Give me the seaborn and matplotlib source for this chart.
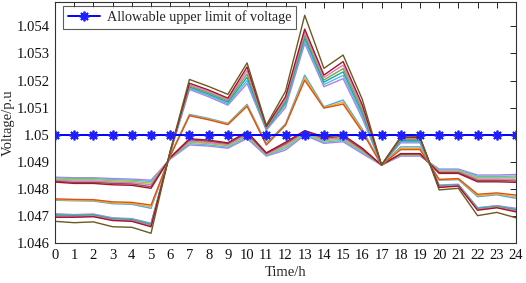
import matplotlib
matplotlib.use("Agg")
import matplotlib.pyplot as plt
import seaborn as sns
import pandas as pd

hours = list(range(25))

# Group A (highest at night, lowest during the day)
A1 = [1.04843, 1.04841, 1.04841, 1.04838, 1.04836, 1.04832, 1.04910, 1.04962, 1.04958, 1.04950, 1.04986, 1.04921, 1.04943, 1.04998, 1.04968, 1.04974, 1.04930, 1.04888, 1.04921, 1.04921, 1.04873, 1.04873, 1.04851, 1.04851, 1.04853]
A2 = [1.04840, 1.04838, 1.04838, 1.04834, 1.04832, 1.04827, 1.04912, 1.04967, 1.04962, 1.04954, 1.04991, 1.04923, 1.04950, 1.05002, 1.04972, 1.04979, 1.04934, 1.04888, 1.04923, 1.04923, 1.04870, 1.04870, 1.04846, 1.04846, 1.04847]
A3 = [1.04836, 1.04834, 1.04834, 1.04830, 1.04828, 1.04821, 1.04913, 1.04972, 1.04967, 1.04959, 1.04996, 1.04926, 1.04956, 1.05006, 1.04977, 1.04984, 1.04938, 1.04888, 1.04925, 1.04925, 1.04866, 1.04866, 1.04841, 1.04841, 1.04841]
A4 = [1.04832, 1.04829, 1.04829, 1.04825, 1.04823, 1.04815, 1.04914, 1.04976, 1.04971, 1.04963, 1.05001, 1.04928, 1.04962, 1.05009, 1.04982, 1.04989, 1.04942, 1.04888, 1.04927, 1.04927, 1.04863, 1.04863, 1.04836, 1.04836, 1.04835]
A5 = [1.04828, 1.04824, 1.04824, 1.04820, 1.04818, 1.04808, 1.04915, 1.04981, 1.04976, 1.04967, 1.05006, 1.04931, 1.04967, 1.05012, 1.04987, 1.04994, 1.04946, 1.04888, 1.04929, 1.04929, 1.04860, 1.04860, 1.04831, 1.04831, 1.04829]
A6 = [1.04825, 1.04820, 1.04820, 1.04815, 1.04813, 1.04802, 1.04916, 1.04985, 1.04980, 1.04970, 1.05011, 1.04933, 1.04972, 1.05015, 1.04992, 1.04999, 1.04950, 1.04888, 1.04930, 1.04930, 1.04857, 1.04857, 1.04826, 1.04826, 1.04824]

# Group B (middle)
B1 = [1.04758, 1.04756, 1.04755, 1.04745, 1.04743, 1.04728, 1.04925, 1.05075, 1.05060, 1.05042, 1.05112, 1.04968, 1.05040, 1.05220, 1.05103, 1.05128, 1.05020, 1.04888, 1.04955, 1.04955, 1.04832, 1.04834, 1.04771, 1.04778, 1.04765]
B2 = [1.04760, 1.04758, 1.04757, 1.04748, 1.04746, 1.04734, 1.04923, 1.05072, 1.05057, 1.05040, 1.05108, 1.04965, 1.05037, 1.05210, 1.05100, 1.05120, 1.05015, 1.04888, 1.04950, 1.04950, 1.04833, 1.04836, 1.04775, 1.04781, 1.04771]
B3 = [1.04763, 1.04761, 1.04760, 1.04752, 1.04750, 1.04740, 1.04921, 1.05070, 1.05055, 1.05037, 1.05105, 1.04962, 1.05035, 1.05201, 1.05098, 1.05113, 1.05010, 1.04888, 1.04945, 1.04945, 1.04835, 1.04838, 1.04780, 1.04785, 1.04777]

# Group C (lowest at night, highest during the day)
C2 = [1.04695, 1.04695, 1.04697, 1.04683, 1.04680, 1.04660, 1.04938, 1.05190, 1.05165, 1.05135, 1.05250, 1.05030, 1.05140, 1.05390, 1.05220, 1.05270, 1.05110, 1.04888, 1.04990, 1.04990, 1.04805, 1.04810, 1.04721, 1.04730, 1.04715]
C3 = [1.04698, 1.04697, 1.04699, 1.04685, 1.04682, 1.04663, 1.04937, 1.05184, 1.05160, 1.05130, 1.05237, 1.05027, 1.05132, 1.05379, 1.05211, 1.05257, 1.05100, 1.04888, 1.04986, 1.04986, 1.04807, 1.04812, 1.04723, 1.04732, 1.04718]
C4 = [1.04700, 1.04699, 1.04701, 1.04687, 1.04684, 1.04666, 1.04936, 1.05180, 1.05155, 1.05125, 1.05224, 1.05024, 1.05125, 1.05368, 1.05202, 1.05244, 1.05090, 1.04888, 1.04982, 1.04982, 1.04809, 1.04813, 1.04725, 1.04734, 1.04720]
C5 = [1.04703, 1.04701, 1.04703, 1.04689, 1.04686, 1.04668, 1.04935, 1.05176, 1.05150, 1.05120, 1.05212, 1.05022, 1.05118, 1.05358, 1.05194, 1.05232, 1.05080, 1.04888, 1.04978, 1.04978, 1.04810, 1.04814, 1.04727, 1.04735, 1.04722]
C6 = [1.04705, 1.04703, 1.04705, 1.04691, 1.04688, 1.04670, 1.04934, 1.05171, 1.05145, 1.05114, 1.05200, 1.05019, 1.05110, 1.05347, 1.05185, 1.05219, 1.05070, 1.04888, 1.04974, 1.04974, 1.04812, 1.04815, 1.04729, 1.04737, 1.04724]
C7 = [1.04708, 1.04705, 1.04707, 1.04693, 1.04690, 1.04673, 1.04933, 1.05167, 1.05140, 1.05109, 1.05189, 1.05017, 1.05100, 1.05337, 1.05177, 1.05207, 1.05060, 1.04888, 1.04970, 1.04970, 1.04814, 1.04817, 1.04730, 1.04738, 1.04728]
C1 = [1.04680, 1.04675, 1.04678, 1.04660, 1.04658, 1.04636, 1.04940, 1.05204, 1.05178, 1.05149, 1.05265, 1.05035, 1.05160, 1.05441, 1.05245, 1.05294, 1.05130, 1.04888, 1.04992, 1.04992, 1.04796, 1.04802, 1.04701, 1.04713, 1.04693]

series = {
    "A1": A1, "A2": A2, "A3": A3, "A4": A4, "A5": A5, "A6": A6,
    "B1": B1, "B2": B2, "B3": B3,
    "C7": C7, "C6": C6, "C5": C5, "C4": C4, "C3": C3, "C2": C2, "C1": C1,
}
colors = {
    "A1": "#B57EDC", "A2": "#4DBEEE", "A3": "#9ACD32", "A4": "#E377C2", "A5": "#8C564B", "A6": "#A2142F",
    "B1": "#4DA6E8", "B2": "#EDB120", "B3": "#D95319",
    "C7": "#B57EDC", "C6": "#4DBEEE", "C5": "#17A2B8", "C4": "#77AC30", "C3": "#E377C2", "C2": "#A2142F", "C1": "#6B5A1E",
}

limit_value = 1.05
limit_label = "Allowable upper limit of voltage"
yticks = [1.046, 1.047, 1.048, 1.049, 1.05, 1.051, 1.052, 1.053, 1.054]
ytick_labels = ["1.046", "1.047", "1.048", "1.049", "1.05", "1.051", "1.052", "1.053", "1.054"]

rows = []
for name, vals in series.items():
    for h, v in zip(hours, vals):
        rows.append({"hour": h, "voltage": v, "node": name})
df = pd.DataFrame(rows)
df_lim = pd.DataFrame({"hour": hours, "voltage": [limit_value] * len(hours)})

sns.set_theme(style="white")
plt.rcParams["font.family"] = ["Liberation Serif", "DejaVu Serif"]

fig = plt.figure(figsize=(5.26, 2.83), dpi=100)
ax = fig.add_axes([55 / 526, 40 / 283, 461 / 526, 241 / 283])

sns.lineplot(data=df, x="hour", y="voltage", hue="node", palette=colors,
             hue_order=list(series.keys()), legend=False, linewidth=1.0, ax=ax)
sns.lineplot(data=df_lim, x="hour", y="voltage", color="#0000FF", marker=(8, 2, 0),
             markersize=7, markeredgecolor="#1E1EFF", markeredgewidth=1.3, linewidth=1.4,
             label=limit_label, ax=ax)

ax.set_xlim(0, 24)
ax.set_ylim(1.046, 1.0549)
ax.set_xticks(hours)
ax.set_xticklabels([str(h) for h in hours])
ax.set_yticks(yticks)
ax.set_yticklabels(ytick_labels)
ax.tick_params(axis="both", direction="in", length=4, width=0.7, labelsize=10.5,
               top=True, right=True, colors="#222222", pad=4)
ax.tick_params(axis="both", labelcolor="#111111")
for s in ax.spines.values():
    s.set_color("#333333")
    s.set_linewidth(0.8)
ax.set_xlabel("Time/h", fontsize=10.5, labelpad=3)
ax.set_ylabel("Voltage/p.u", fontsize=10.5)
ax.yaxis.set_label_coords(-0.088, 0.5)

leg = ax.legend(loc="upper left", bbox_to_anchor=(0.017, 0.985), borderaxespad=0,
                fontsize=10.2, frameon=True, fancybox=False, handlelength=2.3,
                borderpad=0.35, handletextpad=0.45)
leg.get_frame().set_edgecolor("#333333")
leg.get_frame().set_linewidth(0.8)

fig.savefig("out.png", dpi=100)
